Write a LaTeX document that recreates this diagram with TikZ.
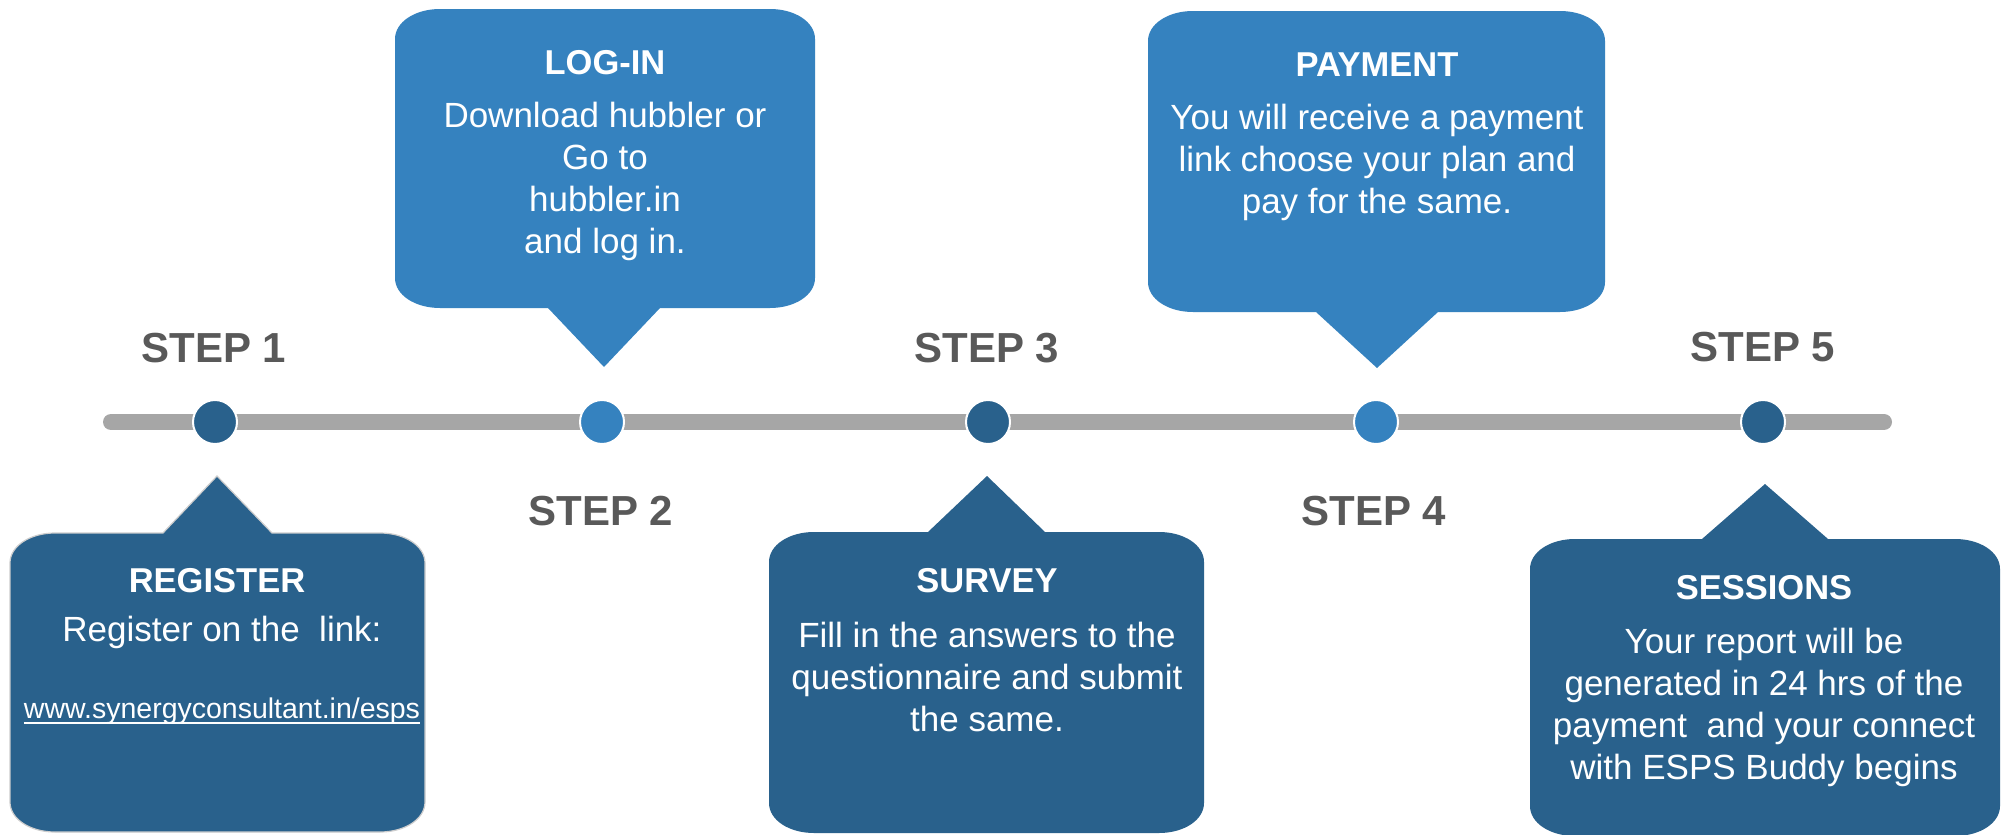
\documentclass[tikz,border=0pt]{standalone}
\usepackage{fontspec}
\setmainfont{Liberation Sans}
\usetikzlibrary{calc}
\definecolor{dblue}{RGB}{41,97,140}
\definecolor{lblue}{RGB}{53,130,191}
\definecolor{tlgray}{RGB}{166,166,166}
\definecolor{steptxt}{RGB}{89,89,89}
\definecolor{edgegray}{RGB}{205,205,205}
% callout with pointer on top edge: style, L, T, R, B, apex x, apex y, base left, base right
\newcommand{\bubbleup}[9]{%
  \path[#1] (#2,#3+30) .. controls (#2,#3+13) and (#2+20,#3) .. (#2+45,#3)
    -- (#8,#3) -- (#6,#7) -- (#9,#3)
    -- (#4-45,#3) .. controls (#4-20,#3) and (#4,#3+13) .. (#4,#3+30)
    -- (#4,#5-30) .. controls (#4,#5-13) and (#4-20,#5) .. (#4-45,#5)
    -- (#2+45,#5) .. controls (#2+20,#5) and (#2,#5-13) .. (#2,#5-30) -- cycle;}
% callout with pointer on bottom edge
\newcommand{\bubbledown}[9]{%
  \path[#1] (#2,#3+30) .. controls (#2,#3+13) and (#2+20,#3) .. (#2+45,#3)
    -- (#4-45,#3) .. controls (#4-20,#3) and (#4,#3+13) .. (#4,#3+30)
    -- (#4,#5-30) .. controls (#4,#5-13) and (#4-20,#5) .. (#4-45,#5)
    -- (#9,#5) -- (#6,#7) -- (#8,#5)
    -- (#2+45,#5) .. controls (#2+20,#5) and (#2,#5-13) .. (#2,#5-30) -- cycle;}
\begin{document}
\begin{tikzpicture}[x=1pt,y=-1pt,
  steplbl/.style={font=\fontsize{42}{50}\selectfont\bfseries, text=steptxt, inner sep=0pt, anchor=base},
  btitle/.style={font=\fontsize{34.5}{42}\selectfont\bfseries, text=white, inner sep=0pt, anchor=base},
  btext/.style={font=\fontsize{35}{42}\selectfont, text=white, inner sep=0pt, anchor=north, align=center},
  dot/.style={circle, draw=white, line width=2pt, minimum size=44pt, inner sep=0pt}]
\useasboundingbox (0,0) rectangle (2002,835);
\fill[white] (0,0) rectangle (2002,835);

% callouts
\bubbleup{fill=dblue, draw=edgegray, line width=1.2pt}{10}{533}{425}{832}{217}{476}{163}{272}
\bubbledown{fill=lblue}{395}{9}{815}{308}{604}{367}{548}{660}
\bubbleup{fill=dblue}{769}{532}{1204}{833}{987}{476}{928}{1045}
\bubbledown{fill=lblue}{1148}{11}{1605}{312}{1377}{368}{1316}{1438}
\bubbleup{fill=dblue}{1530}{539}{2000}{836}{1765}{484}{1702}{1828}

% timeline
\coordinate (tl) at (111,422);
\coordinate (tr) at (1884,422);
\draw[tlgray, line width=16pt, line cap=round] (tl) -- (tr);
\node[dot, fill=dblue] (d1) at (215,422) {};
\node[dot, fill=lblue] (d2) at (602,422) {};
\node[dot, fill=dblue] (d3) at (988,422) {};
\node[dot, fill=lblue] (d4) at (1376,422) {};
\node[dot, fill=dblue] (d5) at (1763,422) {};

% step labels
\node[steplbl] (s1) at (214,362) {STEP 1};
\node[steplbl] (s2) at (601,525) {STEP 2};
\node[steplbl] (s3) at (987,362) {STEP 3};
\node[steplbl] (s4) at (1374,525) {STEP 4};
\node[steplbl] (s5) at (1763,361) {STEP 5};

% REGISTER
\node[btitle] (t1) at (217,592) {REGISTER};
\node[btext, anchor=base] (b1) at (222,641) {Register on the\ \ link:};
\node[font=\fontsize{28.5}{34}\selectfont, text=white, inner sep=0pt, anchor=base] (url) at (222,718) {www.synergyconsultant.in/esps};
\draw[white, line width=1.3pt] ($(url.base west)+(0,5)$) -- ($(url.base east)+(0,5)$);

% LOG-IN
\node[btitle] (t2) at (605,74) {LOG-IN};
\node[btext] (b2) at (605,97.6) {\strut Download hubbler or\\Go to\\hubbler.in\\and log in.};

% SURVEY
\node[btitle] (t3) at (987,592) {SURVEY};
\node[btext] (b3) at (987,617.6) {\strut Fill in the answers to the\\questionnaire and submit\\the same.};

% PAYMENT
\node[btitle] (t4) at (1377,76) {PAYMENT};
\node[btext] (b4) at (1377,99.6) {\strut You will receive a payment\\link choose your plan and\\pay for the same.};

% SESSIONS
\node[btitle] (t5) at (1764,599) {SESSIONS};
\node[btext] (b5) at (1764,623.6) {\strut Your report will be\\generated in 24 hrs of the\\payment\ \ and your connect\\with ESPS Buddy begins};
\end{tikzpicture}
\end{document}
